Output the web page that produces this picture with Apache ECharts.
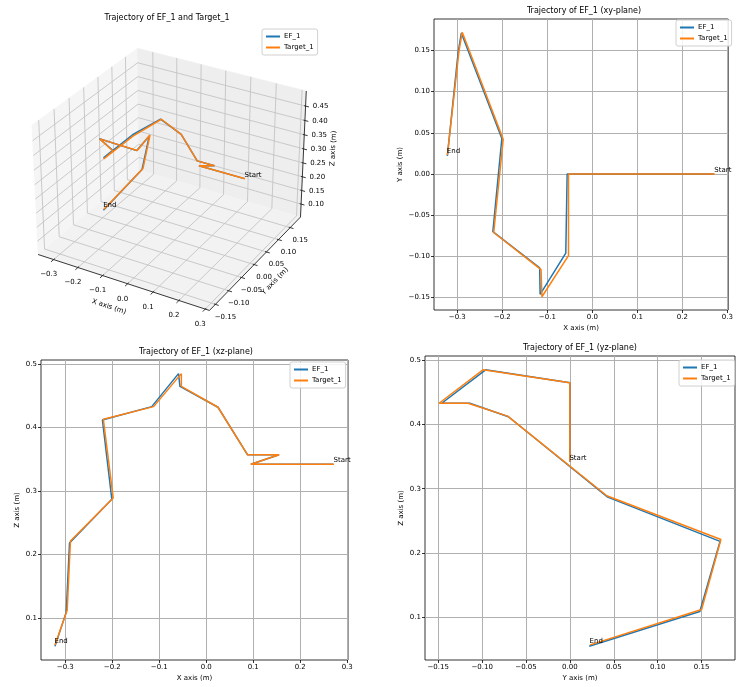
<!DOCTYPE html>
<html><head><meta charset="utf-8">
<script src="https://cdn.jsdelivr.net/npm/echarts@6/dist/echarts.min.js"></script>
<style>html,body{margin:0;padding:0;background:#fff}#c{width:736px;height:687px}</style>
</head><body><div id="c"></div>
<script>
// ---------------- data ----------------
const seriesNames = ['EF_1', 'Target_1'];
const efX = [0.270, 0.095, 0.155, 0.088, 0.025, -0.056, -0.059, -0.116, -0.117, -0.221, -0.201, -0.291, -0.298, -0.322];
const efY = [0.000, 0.000, 0.000, 0.000, 0.000, 0.000, -0.096, -0.146, -0.114, -0.070, 0.043, 0.171, 0.148, 0.022];
const efZ = [0.342, 0.342, 0.357, 0.357, 0.432, 0.465, 0.485, 0.433, 0.433, 0.412, 0.287, 0.218, 0.109, 0.055];
const tgX = [0.272, 0.095, 0.155, 0.088, 0.025, -0.053, -0.053, -0.112, -0.114, -0.219, -0.198, -0.289, -0.296, -0.322];
const tgY = [0.000, 0.000, 0.000, 0.000, 0.000, 0.000, -0.099, -0.149, -0.116, -0.071, 0.042, 0.172, 0.150, 0.023];
const tgZ = [0.342, 0.342, 0.357, 0.357, 0.432, 0.465, 0.485, 0.433, 0.433, 0.413, 0.289, 0.221, 0.112, 0.057];
const markNames = ['Start', 'End'];
const xTicks = [-0.3, -0.2, -0.1, 0.0, 0.1, 0.2, 0.3];
const yTicks = [-0.15, -0.10, -0.05, 0.00, 0.05, 0.10, 0.15];
const zTicks2d = [0.1, 0.2, 0.3, 0.4, 0.5];
const zTicks3d = [0.10, 0.15, 0.20, 0.25, 0.30, 0.35, 0.40, 0.45];
const titles = ['Trajectory of EF_1 and Target_1', 'Trajectory of EF_1 (xy-plane)', 'Trajectory of EF_1 (xz-plane)', 'Trajectory of EF_1 (yz-plane)'];

// ---------------- styling / layout ----------------
const FONT = 'DejaVu Sans';
const C_EF = '#1f77b4', C_TG = '#ff7f0e';
const GRIDC = '#b0b0b0';

// 3D view (matplotlib-like perspective projection)
const L3 = { x: [-0.365, 0.316], y: [-0.172, 0.195], z: [0.052, 0.502] };
const BOX = [1.19, 1.19, 0.893];
const ELEV = 30 * Math.PI / 180, AZIM = -60 * Math.PI / 180, DIST = 10;
const W = [Math.cos(ELEV) * Math.cos(AZIM), Math.cos(ELEV) * Math.sin(AZIM), Math.sin(ELEV)];
const un = Math.hypot(W[0], W[1]);
const U = [-W[1] / un, W[0] / un, 0];
const V = [W[1] * U[2] - W[2] * U[1], W[2] * U[0] - W[0] * U[2], W[0] * U[1] - W[1] * U[0]];
function proj(x, y, z) {
  const q = [
    (x - L3.x[0]) / (L3.x[1] - L3.x[0]) * BOX[0] - BOX[0] / 2,
    (y - L3.y[0]) / (L3.y[1] - L3.y[0]) * BOX[1] - BOX[1] / 2,
    (z - L3.z[0]) / (L3.z[1] - L3.z[0]) * BOX[2] - BOX[2] / 2
  ];
  const a = U[0] * q[0] + U[1] * q[1] + U[2] * q[2];
  const b = V[0] * q[0] + V[1] * q[1] + V[2] * q[2];
  const c = W[0] * q[0] + W[1] * q[1] + W[2] * q[2];
  return [a / (DIST - c), b / (DIST - c)];
}
// pixel mapping of the hidden 3D grid
const G3 = { left: 0, top: 0, width: 368, height: 340 }, CX = 171.7, CY = 173, K = 1650;

const fmt = d => v => (v < 0 ? '\u2212' : '') + Math.abs(v).toFixed(d);
const zip = (a, b) => a.map((v, i) => [v, b[i]]);
function ext(arrs) {
  const all = [].concat(...arrs);
  const lo = Math.min(...all), hi = Math.max(...all), m = (hi - lo) * 0.05;
  return [lo - m, hi + m];
}
const XR = ext([efX, tgX]), YR = ext([efY, tgY]), ZR = ext([efZ, tgZ]);

function valAxis(gi, r, ticks, dec, name, gap, pos) {
  return {
    type: 'value', gridIndex: gi, min: r[0], max: r[1], position: pos,
    name: name, nameLocation: 'middle', nameGap: gap,
    nameTextStyle: { fontSize: 7, color: '#000', fontFamily: FONT },
    axisLine: { show: false, onZero: false },
    axisTick: { show: true, inside: false, length: 3, customValues: ticks, lineStyle: { color: '#000', width: 0.8 } },
    axisLabel: { show: true, customValues: ticks, formatter: fmt(dec), fontSize: 7, color: '#000', fontFamily: FONT, margin: 4 },
    splitLine: { show: true, customValues: ticks, lineStyle: { color: GRIDC, width: 1 } }
  };
}

const grids = [
  { left: 434, right: 1, top: 19, bottom: 377, show: true, borderColor: '#000', borderWidth: 0.8 },
  { left: 41, right: 388, top: 360, bottom: 27, show: true, borderColor: '#000', borderWidth: 0.8 },
  { left: 425, right: 1, top: 356, bottom: 27, show: true, borderColor: '#000', borderWidth: 0.8 },
  { left: G3.left, top: G3.top, width: G3.width, height: G3.height, show: false }
];
const xAxes = [
  valAxis(0, XR, xTicks, 1, 'X axis (m)', 15, 'bottom'),
  valAxis(1, XR, xTicks, 1, 'X axis (m)', 15, 'bottom'),
  valAxis(2, YR, yTicks, 2, 'Y axis (m)', 15, 'bottom'),
  { type: 'value', gridIndex: 3, show: false, min: (G3.left - CX) / K, max: (G3.left + G3.width - CX) / K }
];
const yAxes = [
  valAxis(0, YR, yTicks, 2, 'Y axis (m)', 30, 'left'),
  valAxis(1, ZR, zTicks2d, 1, 'Z axis (m)', 20, 'left'),
  valAxis(2, ZR, zTicks2d, 1, 'Z axis (m)', 20, 'left'),
  { type: 'value', gridIndex: 3, show: false, min: (CY - G3.top - G3.height) / K, max: (CY - G3.top) / K }
];

function lineSeries(name, gi, data, color) {
  return { type: 'line', name: name, xAxisIndex: gi, yAxisIndex: gi, data: data, symbol: 'none',
    showSymbol: false, lineStyle: { color: color, width: 1.5 }, itemStyle: { color: color }, animation: false, silent: true, z: 3 };
}
function markSeries(gi, pts) {
  return { type: 'scatter', name: 'marks' + gi, xAxisIndex: gi, yAxisIndex: gi, symbolSize: 1,
    itemStyle: { color: 'rgba(0,0,0,0)' }, animation: false, silent: true, z: 4,
    data: pts.map((p, i) => ({ name: markNames[i], value: p })),
    label: { show: true, formatter: '{b}', position: [0, 0], align: 'left', verticalAlign: 'bottom',
      fontSize: 7, color: '#000', fontFamily: FONT, opacity: 1 },
    labelLayout: { hideOverlap: false } };
}
const last = tgX.length - 1;
const p3ef = efX.map((v, i) => proj(v, efY[i], efZ[i]));
const p3tg = tgX.map((v, i) => proj(v, tgY[i], tgZ[i]));

// 3D frame (panes, grids, axes, ticks) drawn through the hidden grid's scales
function renderFrame(params, api) {
  const P = (x, y, z) => api.coord(proj(x, y, z));
  const [x0, x1] = L3.x, [y0, y1] = L3.y, [z0, z1] = L3.z;
  const ch = [];
  const poly = (pts, fill) => ch.push({ type: 'polygon', shape: { points: pts }, style: { fill: fill, stroke: fill, lineWidth: 0.5 } });
  poly([P(x0, y0, z0), P(x0, y1, z0), P(x0, y1, z1), P(x0, y0, z1)], '#f5f5f5');
  poly([P(x0, y1, z0), P(x1, y1, z0), P(x1, y1, z1), P(x0, y1, z1)], '#eeeeee');
  poly([P(x0, y0, z0), P(x1, y0, z0), P(x1, y1, z0), P(x0, y1, z0)], '#f2f2f2');
  const pl = pts => ch.push({ type: 'polyline', shape: { points: pts }, style: { stroke: '#c4c4c4', lineWidth: 0.9, fill: null } });
  xTicks.forEach(t => pl([P(t, y0, z0), P(t, y1, z0), P(t, y1, z1)]));
  yTicks.forEach(t => pl([P(x1, t, z0), P(x0, t, z0), P(x0, t, z1)]));
  zTicks3d.forEach(t => pl([P(x0, y0, t), P(x0, y1, t), P(x1, y1, t)]));
  const ln = (a, b) => ch.push({ type: 'line', shape: { x1: a[0], y1: a[1], x2: b[0], y2: b[1] }, style: { stroke: '#222', lineWidth: 0.9 } });
  ln(P(x0, y0, z0), P(x1, y0, z0));
  ln(P(x1, y0, z0), P(x1, y1, z0));
  ln(P(x1, y1, z0), P(x1, y1, z1));
  const txt = (s, p, rot) => ch.push({ type: 'text', x: p[0], y: p[1], rotation: rot || 0,
    style: { text: s, fontSize: 7, fontFamily: FONT, fill: '#000', align: 'center', verticalAlign: 'middle' } });
  const tick = (a, b, s, off) => {
    const dx = b[0] - a[0], dy = b[1] - a[1], n = Math.hypot(dx, dy);
    ln([a[0] - dx / n * 1.5, a[1] - dy / n * 1.5], [a[0] + dx / n * 3.5, a[1] + dy / n * 3.5]);
    txt(s, [a[0] + off[0], a[1] + off[1]]);
  };
  const ey = (y1 - y0) * 0.05, ex = (x1 - x0) * 0.05;
  xTicks.forEach(t => tick(P(t, y0, z0), P(t, y0 - ey, z0), fmt(1)(t), [-5, 15]));
  yTicks.forEach(t => tick(P(x1, t, z0), P(x1 + ex, t, z0), fmt(2)(t), [10, 12.5]));
  zTicks3d.forEach(t => tick(P(x1, y1, t), P(x1 + ex, y1, t), fmt(2)(t), [15, 0.5]));
  const ang = (a, b) => Math.atan2(-(b[1] - a[1]), b[0] - a[0]);
  const xm = (x0 + x1) / 2, ym = (y0 + y1) / 2, zm = (z0 + z1) / 2;
  let a = P(x0, y0, z0), b = P(x1, y0, z0), m = P(xm, y0, z0);
  txt('X axis (m)', [m[0] - 12.5, m[1] + 25], ang(a, b));
  a = P(x1, y0, z0); b = P(x1, y1, z0); m = P(x1, ym, z0);
  txt('Y axis (m)', [m[0] + 18, m[1] + 19.5], ang(a, b));
  a = P(x1, y1, z0); b = P(x1, y1, z1); m = P(x1, y1, zm);
  txt('Z axis (m)', [m[0] + 30, m[1] - 7], ang(a, b));
  return { type: 'group', children: ch };
}

const series = [
  { type: 'custom', name: 'frame3d', xAxisIndex: 3, yAxisIndex: 3, data: [[0, 0]], renderItem: renderFrame, silent: true, animation: false, z: 1 },
  lineSeries('EF_1', 3, p3ef, C_EF),
  lineSeries('Target_1', 3, p3tg, C_TG),
  markSeries(3, [p3tg[0], p3tg[last]]),
  lineSeries('EF_1', 0, zip(efX, efY), C_EF),
  lineSeries('Target_1', 0, zip(tgX, tgY), C_TG),
  markSeries(0, [[tgX[0], tgY[0]], [tgX[last], tgY[last]]]),
  lineSeries('EF_1', 1, zip(efX, efZ), C_EF),
  lineSeries('Target_1', 1, zip(tgX, tgZ), C_TG),
  markSeries(1, [[tgX[0], tgZ[0]], [tgX[last], tgZ[last]]]),
  lineSeries('EF_1', 2, zip(efY, efZ), C_EF),
  lineSeries('Target_1', 2, zip(tgY, tgZ), C_TG),
  markSeries(2, [[tgY[0], tgZ[0]], [tgY[last], tgZ[last]]])
];

function legend(left, top) {
  return { data: seriesNames, left: left, top: top, orient: 'vertical', icon: 'rect', itemWidth: 14, itemHeight: 2,
    itemGap: 4, padding: [4, 4, 4, 4], backgroundColor: 'rgba(255,255,255,0.85)', borderColor: '#d0d0d0', borderWidth: 1,
    borderRadius: 2, textStyle: { fontSize: 7, color: '#000', fontFamily: FONT, padding: [0, 0, 0, -1] }, selectedMode: false, z: 10 };
}
function title(text, cx, top) {
  return { text: text, left: cx, top: top, textAlign: 'center', padding: 0,
    textStyle: { fontSize: 8, fontWeight: 'normal', color: '#000', fontFamily: FONT } };
}

const chart = echarts.init(document.getElementById('c'), null, { renderer: 'canvas' });
chart.setOption({
  animation: false,
  backgroundColor: '#fff',
  title: [title(titles[0], 167, 14), title(titles[1], 584, 7), title(titles[2], 196, 348), title(titles[3], 580, 344)],
  legend: [legend(262, 29), legend(676, 20), legend(290, 362), legend(679, 360)],
  grid: grids, xAxis: xAxes, yAxis: yAxes, series: series
});
</script></body></html>
